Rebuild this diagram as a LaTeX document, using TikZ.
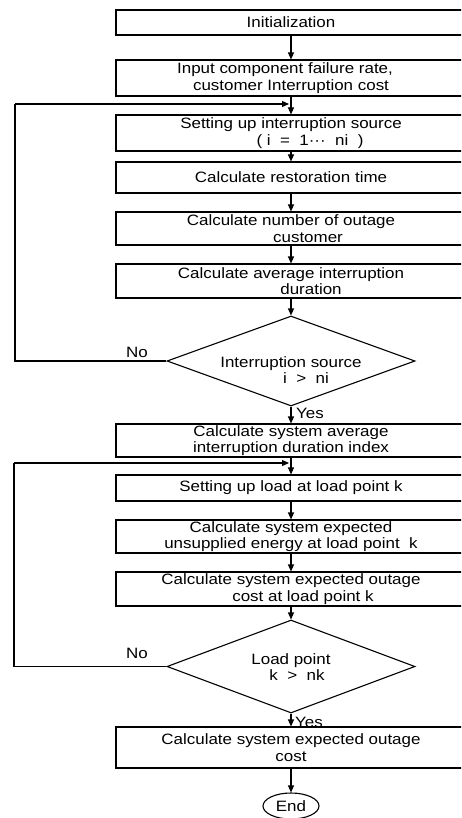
\documentclass[tikz,border=0pt]{standalone}
\usepackage{fontspec}
\setmainfont{Liberation Sans}[FakeStretch=1.13]
\usetikzlibrary{shapes.geometric,arrows.meta}
\begin{document}
\begin{tikzpicture}[x=1pt,y=-1pt,
  font=\fontsize{15}{16.5}\selectfont,
  box/.style={draw, line width=1.1pt, rectangle, minimum width=350pt, inner sep=0pt, align=center},
  dec/.style={draw, line width=1.1pt, diamond, minimum width=248pt, inner sep=0pt},
  arr/.style={line width=1.1pt, -{Triangle[length=7pt,width=6pt]}},
  lbl/.style={inner sep=0pt, align=center},
  ln/.style={line width=1.1pt}]
\useasboundingbox (0,0) rectangle (461,818);
\clip (0,0) rectangle (461,818);
% boxes
\node[box, minimum height=25pt] (b1) at (291,22.5) {Initialization};
\node[box, minimum height=36pt] (b2) at (291,78) {Input component failure rate,\hspace*{12pt}\\customer Interruption cost};
\node[box, minimum height=36pt] (b3) at (291,133) {Setting up interruption source\\\hspace*{38pt}(~i~ =~ 1···~ ni~ )};
\node[box, minimum height=31pt] (b4) at (291,177.5) {Calculate restoration time};
\node[box, minimum height=33pt] (b5) at (291,228.5) {Calculate number of outage\\\hspace*{34pt}customer};
\node[box, minimum height=34pt] (b6) at (291,281) {Calculate average interruption\\\hspace*{40pt}duration};
\node[dec, minimum height=90pt] (d1) at (291,361) {};
\node[lbl] (d1t) at (291,370) {Interruption source\\\hspace*{30pt}i~ >~ ni};
\node[box, minimum height=33pt] (b7) at (291,440.5) {Calculate system average\\interruption duration index};
\node[box, minimum height=26pt] (b8) at (291,488) {Setting up load at load point k};
\node[box, minimum height=33pt] (b9) at (291,536.5) {Calculate system expected\\unsupplied energy at load point~ k};
\node[box, minimum height=34pt] (b10) at (291,589) {Calculate system expected outage\\\hspace*{24pt}cost at load point k};
\node[dec, minimum height=93pt] (d2) at (291,666.5) {};
\node[lbl] (d2t) at (291,667) {Load point\\\hspace*{12pt}k~ >~ nk};
\node[box, minimum height=41pt] (b11) at (291,747.5) {Calculate system expected outage\\cost};
\node[draw, line width=1.1pt, ellipse, minimum width=56pt, minimum height=26pt, inner sep=0pt] (end) at (291,806) {End};
% labels
\node[lbl] (no1) at (137,352) {No};
\node[lbl] (no2) at (137,653) {No};
\node[lbl, anchor=west] (yes1) at (296,413) {Yes};
\node[lbl, anchor=west] (yes2) at (295,722) {Yes};
% arrows
\draw[arr] (b1) -- (b2);
\draw[arr] (b2) -- (b3);
\draw[arr] (b3) -- (b4);
\draw[arr] (b4) -- (b5);
\draw[arr] (b5) -- (b6);
\draw[arr] (b6) -- (d1);
\draw[arr] (d1) -- (b7);
\draw[arr] (b7) -- (b8);
\draw[arr] (b8) -- (b9);
\draw[arr] (b9) -- (b10);
\draw[arr] (b10) -- (d2);
\draw[arr] (d2) -- (b11);
\draw[arr] (b11) -- (end);
% feedback loops
\coordinate (f1) at (15,104);
\coordinate (f2) at (14,463);
\draw[ln] (d1.west) -- (d1.west -| f1) -- (f1);
\draw[arr, shorten >=2pt] (f1) -- (f1 -| b3.north);
\draw[ln] (d2.west) -- (d2.west -| f2) -- (f2);
\draw[arr, shorten >=2pt] (f2) -- (f2 -| b8.north);
\end{tikzpicture}
\end{document}
